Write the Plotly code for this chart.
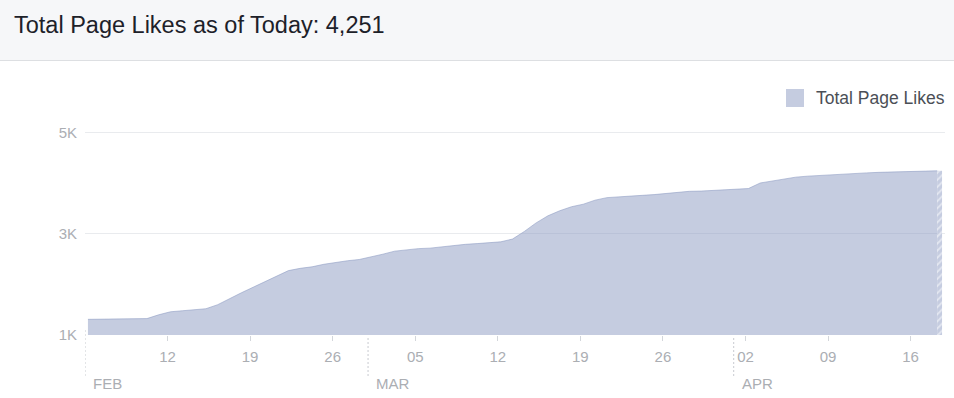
import pandas as pd
import plotly.graph_objects as go

# ---------------- data ----------------
start_date = "2017-02-05"
end_date = "2017-04-18"
likes = [1310, 1312, 1315, 1318, 1320, 1325, 1400, 1460, 1480, 1500,
         1520, 1600, 1725, 1835, 1945, 2055, 2165, 2275, 2320, 2350,
         2400, 2440, 2470, 2495, 2540, 2600, 2660, 2690, 2710, 2720,
         2745, 2775, 2795, 2810, 2825, 2845, 2900, 3050, 3220, 3360,
         3460, 3540, 3590, 3670, 3720, 3740, 3755, 3765, 3780, 3800,
         3830, 3845, 3850, 3860, 3870, 3885, 3900, 4010, 4050, 4090,
         4125, 4145, 4160, 4170, 4190, 4200, 4210, 4220, 4230, 4235,
         4240, 4245, 4251]
title_text = "Total Page Likes as of Today: 4,251"
series_name = "Total Page Likes"
y_tickvals = [1000, 3000, 5000]
y_ticktext = ["1K", "3K", "5K"]
x_tickvals = ["2017-02-12", "2017-02-19", "2017-02-26", "2017-03-05", "2017-03-12",
              "2017-03-19", "2017-03-26", "2017-04-02", "2017-04-09", "2017-04-16"]
x_ticktext = ["12", "19", "26", "05", "12", "19", "26", "02", "09", "16"]
month_dates = ["2017-02-05", "2017-03-01", "2017-04-01"]
month_labels = ["FEB", "MAR", "APR"]

dates = pd.date_range(start_date, end_date, freq="D")
x_vals = dates + pd.Timedelta(hours=6)

# ---------------- layout geometry ----------------
W, H = 954, 398
L, R, T, B = 85, 9, 113, 63
PW, PH = W - L - R, H - T - B

def px(xp):
    return (xp - L) / PW

def py(yp):
    return (H - B - yp) / PH

AREA = "rgba(139,153,193,0.5)"
AREA_SOLID = "#c5cce0"
FONT = "Liberation Sans, Arial, sans-serif"
TICK_COL = "#abaeb3"

fig = go.Figure()
fig.add_trace(go.Scatter(
    x=x_vals, y=likes, mode="lines", fill="tozeroy",
    line=dict(color="rgba(139,153,193,0.55)", width=1),
    fillcolor=AREA, name=series_name, showlegend=False, hoverinfo="x+y"))

# hatched "today" strip
last_x = x_vals[-1]
fig.add_trace(go.Scatter(
    x=[last_x, last_x + pd.Timedelta(hours=10)], y=[likes[-1], likes[-1]],
    mode="none", fill="tozeroy",
    fillpattern=dict(shape="/", bgcolor=AREA_SOLID, fgcolor="#ffffff", size=5, solidity=0.35),
    showlegend=False, hoverinfo="skip"))

shapes = []
# header band
shapes.append(dict(type="rect", xref="paper", yref="paper",
                   x0=px(0), x1=px(W), y0=py(60), y1=py(0),
                   fillcolor="#f6f7f9", line=dict(width=0), layer="below"))
shapes.append(dict(type="line", xref="paper", yref="paper",
                   x0=px(0), x1=px(W), y0=py(60.5), y1=py(60.5),
                   line=dict(color="#dddfe2", width=1)))
# legend swatch
shapes.append(dict(type="rect", xref="paper", yref="paper",
                   x0=px(786), x1=px(804), y0=py(107), y1=py(89),
                   fillcolor=AREA_SOLID, line=dict(width=0)))
# month dashed lines
for i, d in enumerate(month_dates):
    shapes.append(dict(type="line", xref="x", yref="paper",
                       x0=d, x1=d, y0=py(330 if i == 0 else 338), y1=py(376),
                       line=dict(color="#c8cbd0", width=1, dash="2px,2px")))

annotations = [
    dict(text=title_text, xref="paper", yref="paper", x=px(12), y=py(25),
         xanchor="left", yanchor="middle", showarrow=False,
         font=dict(family=FONT, size=23.5, color="#1d2129")),
    dict(text=series_name, xref="paper", yref="paper", x=px(814), y=py(98),
         xanchor="left", yanchor="middle", showarrow=False,
         font=dict(family=FONT, size=17.5, color="#4b4f56")),
]
for d, lab in zip(month_dates, month_labels):
    annotations.append(dict(text=lab, xref="x", yref="paper", x=d, y=py(383),
                            xanchor="left", yanchor="middle", xshift=6, showarrow=False,
                            font=dict(family=FONT, size=15, color=TICK_COL)))

fig.update_layout(
    width=W, height=H, autosize=False,
    margin=dict(l=L, r=R, t=T, b=B, pad=0),
    paper_bgcolor="#ffffff", plot_bgcolor="#ffffff",
    font=dict(family=FONT, size=15, color=TICK_COL),
    shapes=shapes, annotations=annotations,
    showlegend=False,
)
fig.update_xaxes(
    type="date", range=["2017-02-05", "2017-04-18 22:00"],
    tickvals=x_tickvals, ticktext=x_ticktext,
    ticks="outside", ticklen=5, tickcolor="#d3d6db", tickwidth=1,
    ticklabelstandoff=3,
    showgrid=False, zeroline=False, showline=False,
    tickfont=dict(family=FONT, size=15, color=TICK_COL),
)
fig.update_yaxes(
    range=[1000, 1000 + PH * 19.8],
    tickvals=y_tickvals, ticktext=y_ticktext,
    ticks="outside", ticklen=4, tickcolor="rgba(0,0,0,0)",
    showgrid=True, gridcolor="#e9ebee", gridwidth=1,
    zeroline=False, showline=False,
    tickfont=dict(family=FONT, size=15, color=TICK_COL),
)

fig.write_html("out.html", config={"displayModeBar": False},
               post_script="document.body.style.margin='0';document.body.style.padding='0';document.body.style.overflow='hidden';")
